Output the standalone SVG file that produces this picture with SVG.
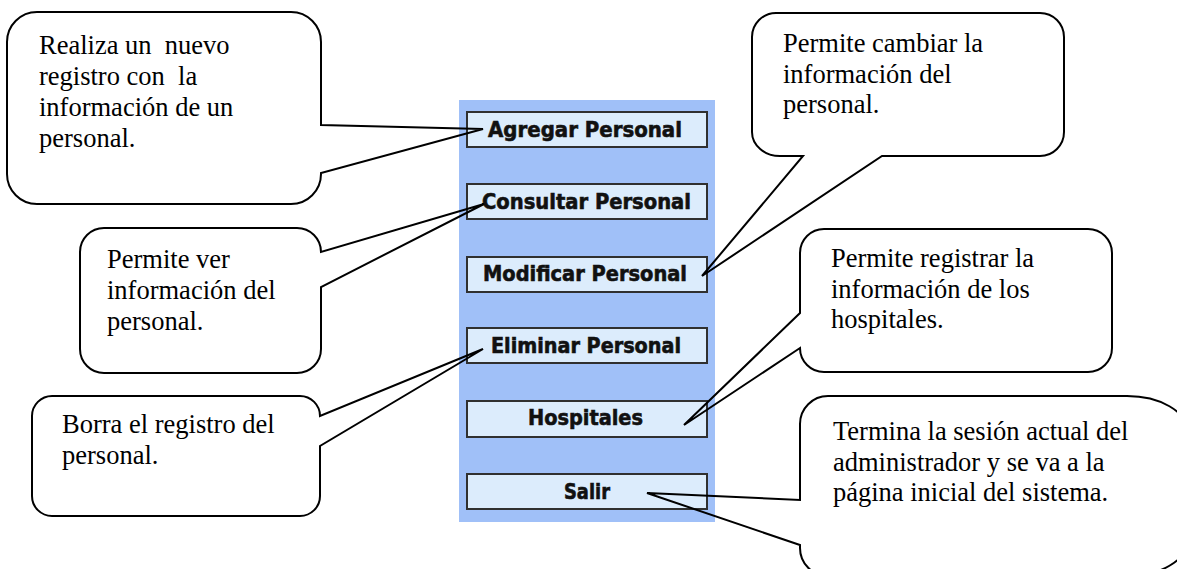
<svg xmlns="http://www.w3.org/2000/svg" width="1177" height="569" viewBox="0 0 1177 569">
<style>
  .panel { fill: #a0c0f8; }
  .btn rect { fill: #dcecfc; stroke: #303030; stroke-width: 2; }
  .btn text { font-family: "DejaVu Sans", "Liberation Sans", sans-serif; font-weight: bold; font-size: 20.5px; fill: #111; stroke: #111; stroke-width: 0.6; }
  .callout path { fill: none; stroke: #000; stroke-width: 2; stroke-linejoin: miter; }
  .callout text { font-family: "Liberation Serif", "Times New Roman", serif; font-size: 26.5px; fill: #000; white-space: pre; }
</style>
<rect id="panel" class="panel" x="459" y="100" width="256" height="422"/>
<g id="btn-agregar" class="btn"><rect x="467" y="112" width="240" height="35"/><text x="488" y="137" textLength="194" lengthAdjust="spacingAndGlyphs">Agregar Personal</text></g>
<g id="btn-consultar" class="btn"><rect x="467" y="184" width="240" height="35"/><text x="482" y="209" textLength="209" lengthAdjust="spacingAndGlyphs">Consultar Personal</text></g>
<g id="btn-modificar" class="btn"><rect x="467" y="257" width="240" height="35"/><text x="483" y="281" textLength="204" lengthAdjust="spacingAndGlyphs">Modificar Personal</text></g>
<g id="btn-eliminar" class="btn"><rect x="467" y="328" width="240" height="35"/><text x="491" y="353" textLength="190" lengthAdjust="spacingAndGlyphs">Eliminar Personal</text></g>
<g id="btn-hospitales" class="btn"><rect x="467" y="401" width="240" height="36"/><text x="528" y="425" textLength="115" lengthAdjust="spacingAndGlyphs">Hospitales</text></g>
<g id="btn-salir" class="btn"><rect x="467" y="474" width="240" height="35"/><text x="564" y="499" textLength="46" lengthAdjust="spacingAndGlyphs">Salir</text></g>
<g id="connectors"></g>
<g id="callout-agregar" class="callout">
  <path d="M37,12 H291 A30,30 0 0 1 321,42 V125 L483,129 L321,173 V174 A30,30 0 0 1 291,204 H37 A30,30 0 0 1 7,174 V42 A30,30 0 0 1 37,12 Z"/>
  <text x="39" y="54">Realiza un  nuevo</text>
  <text x="39" y="85">registro con  la</text>
  <text x="39" y="116">información de un</text>
  <text x="39" y="147">personal.</text>
</g>
<g id="callout-consultar" class="callout">
  <path d="M104,228 H297 A24,24 0 0 1 321,252 L484,204 L321,287 V349 A24,24 0 0 1 297,373 H104 A24,24 0 0 1 80,349 V252 A24,24 0 0 1 104,228 Z"/>
  <text x="107" y="268">Permite ver</text>
  <text x="107" y="299">información del</text>
  <text x="107" y="330">personal.</text>
</g>
<g id="callout-eliminar" class="callout">
  <path d="M52,396 H300 A20,20 0 0 1 320,416 L483,349 L320,446 V496 A20,20 0 0 1 300,516 H52 A20,20 0 0 1 32,496 V416 A20,20 0 0 1 52,396 Z"/>
  <text x="62" y="433">Borra el registro del</text>
  <text x="62" y="464">personal.</text>
</g>
<g id="callout-modificar" class="callout">
  <path d="M776,13 H1040 A24,24 0 0 1 1064,37 V132 A24,24 0 0 1 1040,156 H882 L702,276 L803,156 H780 A28,24 0 0 1 752,132 V37 A24,24 0 0 1 776,13 Z"/>
  <text x="783" y="52">Permite cambiar la</text>
  <text x="783" y="83">información del</text>
  <text x="783" y="113">personal.</text>
</g>
<g id="callout-hospitales" class="callout">
  <path d="M824,229 H1088 A24,24 0 0 1 1112,253 V348 A24,24 0 0 1 1088,372 H824 A24,24 0 0 1 800,348 L684,425 L800,313 V253 A24,24 0 0 1 824,229 Z"/>
  <text x="831" y="267">Permite registrar la</text>
  <text x="831" y="298">información de los</text>
  <text x="831" y="328">hospitales.</text>
</g>
<g id="callout-salir" class="callout">
  <path d="M828,396 H1127 A60,35 0 0 1 1187,431 V541 A60,35 0 0 1 1127,576 H828 A28,28 0 0 1 800,548 V545 L647,493 L800,500 V424 A28,28 0 0 1 828,396 Z"/>
  <text x="833" y="440">Termina la sesión actual del</text>
  <text x="833" y="471">administrador y se va a la</text>
  <text x="833" y="501">página inicial del sistema.</text>
</g>
</svg>
